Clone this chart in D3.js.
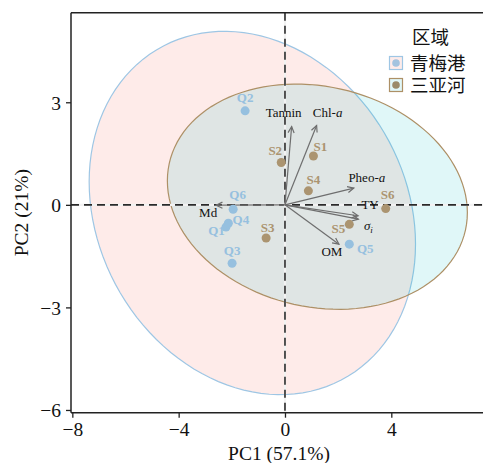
<!DOCTYPE html>
<html>
<head>
<meta charset="utf-8">
<script src="https://cdn.jsdelivr.net/npm/d3@7"></script>
<style>
  html, body { margin: 0; padding: 0; background: #fff; }
  svg { display: block; }
</style>
</head>
<body>
<svg id="chart" width="483" height="463"></svg>
<script>
// PCA site scores (PC1, PC2)
const sampleNames = ["Q1", "Q2", "Q3", "Q4", "Q5", "Q6", "S1", "S2", "S3", "S4", "S5", "S6"];
const sampleRegion = ["青梅港", "青梅港", "青梅港", "青梅港", "青梅港", "青梅港",
                      "三亚河", "三亚河", "三亚河", "三亚河", "三亚河", "三亚河"];
const samplePC1 = [-2.22, -1.50, -1.99, -2.13, 2.42, -1.95, 1.07, -0.14, -0.71, 0.88, 2.42, 3.79];
const samplePC2 = [-0.65, 2.75, -1.71, -0.54, -1.15, -0.13, 1.43, 1.24, -0.97, 0.41, -0.57, -0.11];

// Variable loadings (arrows)
const varNames = ["Tannin", "Chl-a", "Pheo-a", "TY", "σi", "OM", "Md"];
const varPC1 = [0.25, 1.19, 2.59, 2.75, 2.76, 2.03, -2.59];
const varPC2 = [2.29, 2.32, 0.49, -0.32, -0.42, -1.15, -0.01];

const regions = ["青梅港", "三亚河"];
const xTicks = [-8, -4, 0, 4];
const yTicks = [-6, -3, 0, 3];
const xTitle = "PC1 (57.1%)";
const yTitle = "PC2 (21%)";
const legendTitle = "区域";

// Styling
const pointColor = { "青梅港": "#96c0df", "三亚河": "#ab9470" };
const strokeColor = { "青梅港": "#9ec6e4", "三亚河": "#ad9066" };
const fillColor = { "青梅港": "#F8766D", "三亚河": "#00BFC4" };
const fillAlpha = { "青梅港": 0.15, "三亚河": 0.12 };
const legendDot = { "青梅港": "#a3c3df", "三亚河": "#9a8a68" };

// Label nudges (px) relative to each point / arrow tip
const labelNudge = {
  Q1: [-9.5, 8], Q2: [0, -9], Q3: [0, -8], Q4: [12.5, 1], Q5: [16, 9], Q6: [4.5, -10],
  S1: [7, -5], S2: [-6, -7], S3: [1.5, -6], S4: [5, -7], S5: [-11, 9], S6: [2, -10]
};
const varNudge = {
  "Tannin": [-8, -10], "Chl-a": [11, -9], "Pheo-a": [13, -6], "TY": [12, -7],
  "σi": [10, 11], "OM": [-7, 12], "Md": [-8, 12]
};

const serif = "'Liberation Serif', 'Times New Roman', serif";
const cjk = "'Noto Sans CJK SC', 'Noto Sans', sans-serif";

const svg = d3.select("#chart");
const pLeft = 71, pRight = 487, pTop = 12.7, pBottom = 412.7;

const x = d3.scaleLinear().domain([-8.05, 7.6]).range([pLeft, pRight]);
const y = d3.scaleLinear().domain([-6.08, 5.62]).range([pBottom, pTop]);

const samples = sampleNames.map((n, i) => ({ name: n, region: sampleRegion[i], pc1: samplePC1[i], pc2: samplePC2[i] }));

// 95% normal-theory confidence ellipse (same construction as ggplot's stat_ellipse, type = "norm")
function confEllipse(pts, level, segments) {
  const n = pts.length;
  const mx = d3.mean(pts, p => p[0]), my = d3.mean(pts, p => p[1]);
  let sxx = 0, syy = 0, sxy = 0;
  pts.forEach(p => { const dx = p[0] - mx, dy = p[1] - my; sxx += dx * dx; syy += dy * dy; sxy += dx * dy; });
  sxx /= (n - 1); syy /= (n - 1); sxy /= (n - 1);
  // Cholesky (upper) of covariance
  const r11 = Math.sqrt(sxx), r12 = sxy / r11, r22 = Math.sqrt(syy - r12 * r12);
  // F quantile with 2 numerator df has a closed form
  const d2 = n - 1;
  const fq = d2 / 2 * (Math.pow(1 - level, -2 / d2) - 1);
  const radius = Math.sqrt(2 * fq);
  const out = [];
  for (let k = 0; k <= segments; k++) {
    const t = 2 * Math.PI * k / segments;
    const c = Math.cos(t), s = Math.sin(t);
    out.push([mx + radius * c * r11, my + radius * (c * r12 + s * r22)]);
  }
  return out;
}

svg.append("defs").append("clipPath").attr("id", "panel")
  .append("rect").attr("x", pLeft).attr("y", pTop).attr("width", pRight - pLeft).attr("height", pBottom - pTop);
const plot = svg.append("g").attr("clip-path", "url(#panel)");

const line = d3.line().x(d => x(d[0])).y(d => y(d[1]));

regions.forEach(r => {
  const pts = samples.filter(s => s.region === r).map(s => [s.pc1, s.pc2]);
  const ell = confEllipse(pts, 0.95, 120);
  plot.append("path")
    .attr("d", line(ell) + "Z")
    .attr("fill", fillColor[r]).attr("fill-opacity", fillAlpha[r])
    .attr("stroke", strokeColor[r]).attr("stroke-width", 1.2);
});

// Reference lines at zero
["h", "v"].forEach(o => {
  const c = o === "h" ? [pLeft, y(0), pRight, y(0)] : [x(0), pTop, x(0), pBottom];
  plot.append("line").attr("x1", c[0]).attr("y1", c[1]).attr("x2", c[2]).attr("y2", c[3])
    .attr("stroke", "#f2f2f2").attr("stroke-width", 2.2);
  plot.append("line").attr("x1", c[0]).attr("y1", c[1]).attr("x2", c[2]).attr("y2", c[3])
    .attr("stroke", "#2a2a2a").attr("stroke-width", 1.6).attr("stroke-dasharray", "8,5");
});

// Loading arrows
const arrowG = plot.append("g");
varNames.forEach((v, i) => {
  const x0 = x(0), y0 = y(0), x1 = x(varPC1[i]), y1 = y(varPC2[i]);
  const ang = Math.atan2(y1 - y0, x1 - x0);
  const hl = 7, ha = Math.PI / 7;
  arrowG.append("line").attr("x1", x0).attr("y1", y0).attr("x2", x1).attr("y2", y1)
    .attr("stroke", "#6e6e6e").attr("stroke-width", 1.2);
  arrowG.append("path")
    .attr("d", `M${x1 - hl * Math.cos(ang - ha)},${y1 - hl * Math.sin(ang - ha)}L${x1},${y1}L${x1 - hl * Math.cos(ang + ha)},${y1 - hl * Math.sin(ang + ha)}`)
    .attr("fill", "none").attr("stroke", "#6e6e6e").attr("stroke-width", 1.2);
  const t = plot.append("text")
    .attr("x", x1 + varNudge[v][0]).attr("y", y1 + varNudge[v][1])
    .attr("text-anchor", "middle")
    .attr("font-family", serif).attr("font-size", 13).attr("fill", "#111");
  if (v.endsWith("-a")) {
    t.append("tspan").text(v.slice(0, -1));
    t.append("tspan").attr("font-style", "italic").text("a");
  } else if (v === "σi") {
    t.append("tspan").attr("font-style", "italic").text("σ");
    t.append("tspan").attr("font-style", "italic").attr("font-size", 9).attr("dy", 3).text("i");
  } else {
    t.text(v);
  }
});

// Sample points
plot.selectAll("circle.pt").data(samples).join("circle")
  .attr("class", "pt")
  .attr("cx", d => x(d.pc1)).attr("cy", d => y(d.pc2)).attr("r", 4.5)
  .attr("fill", d => pointColor[d.region]);

plot.selectAll("text.lab").data(samples).join("text")
  .attr("class", "lab")
  .attr("x", d => x(d.pc1) + labelNudge[d.name][0])
  .attr("y", d => y(d.pc2) + labelNudge[d.name][1])
  .attr("text-anchor", "middle")
  .attr("font-family", serif).attr("font-weight", "bold").attr("font-size", 13)
  .attr("fill", d => pointColor[d.region])
  .text(d => d.name);

// Axes
const fmt = d => (d < 0 ? "\u2212" + Math.abs(d) : String(d));
const xAxis = svg.append("g").attr("transform", `translate(0,${pBottom})`)
  .call(d3.axisBottom(x).tickValues(xTicks).tickFormat(fmt).tickSizeOuter(0).tickSize(5).tickPadding(4));
const yAxis = svg.append("g").attr("transform", `translate(${pLeft},0)`)
  .call(d3.axisLeft(y).tickValues(yTicks).tickFormat(fmt).tickSizeOuter(0).tickSize(5).tickPadding(5));
[xAxis, yAxis].forEach(a => {
  a.select(".domain").remove();
  a.selectAll(".tick line").attr("stroke", "#222").attr("stroke-width", 1.3);
  a.selectAll(".tick text").attr("font-family", serif).attr("font-size", 19.5).attr("fill", "#111");
});
yAxis.selectAll(".tick text").attr("dy", "0.36em");

// Panel frame (left, bottom, top)
const frame = svg.append("g").attr("stroke", "#222").attr("stroke-width", 1.5);
frame.append("line").attr("x1", pLeft).attr("y1", pTop).attr("x2", pLeft).attr("y2", pBottom);
frame.append("line").attr("x1", pLeft).attr("y1", pBottom).attr("x2", pRight).attr("y2", pBottom);
frame.append("line").attr("x1", pLeft).attr("y1", pTop).attr("x2", pRight).attr("y2", pTop);

// Axis titles
svg.append("text").attr("x", (pLeft + pRight) / 2).attr("y", 460)
  .attr("text-anchor", "middle").attr("font-family", serif).attr("font-size", 19.5).attr("fill", "#111")
  .text(xTitle);
svg.append("text").attr("transform", `translate(28,${(pTop + pBottom) / 2}) rotate(-90)`)
  .attr("text-anchor", "middle").attr("font-family", serif).attr("font-size", 19.5).attr("fill", "#111")
  .text(yTitle);

// Legend
const lg = svg.append("g");
lg.append("text").attr("x", 412).attr("y", 44).attr("font-family", cjk).attr("font-size", 18.5).attr("fill", "#111").text(legendTitle);
regions.forEach((r, i) => {
  const yy = 56 + i * 22;
  lg.append("rect").attr("x", 389.5).attr("y", yy + 0.5).attr("width", 13).attr("height", 13)
    .attr("fill", "#fff").attr("stroke", "none");
  lg.append("rect").attr("x", 389.5).attr("y", yy + 0.5).attr("width", 13).attr("height", 13)
    .attr("fill", fillColor[r]).attr("fill-opacity", fillAlpha[r])
    .attr("stroke", strokeColor[r]).attr("stroke-width", 1.2);
  lg.append("circle").attr("cx", 396).attr("cy", yy + 7).attr("r", 3.8).attr("fill", legendDot[r]);
  lg.append("text").attr("x", 410).attr("y", yy + 14).attr("font-family", cjk).attr("font-size", 18.5)
    .attr("fill", "#111").text(r);
});
</script>
</body>
</html>
